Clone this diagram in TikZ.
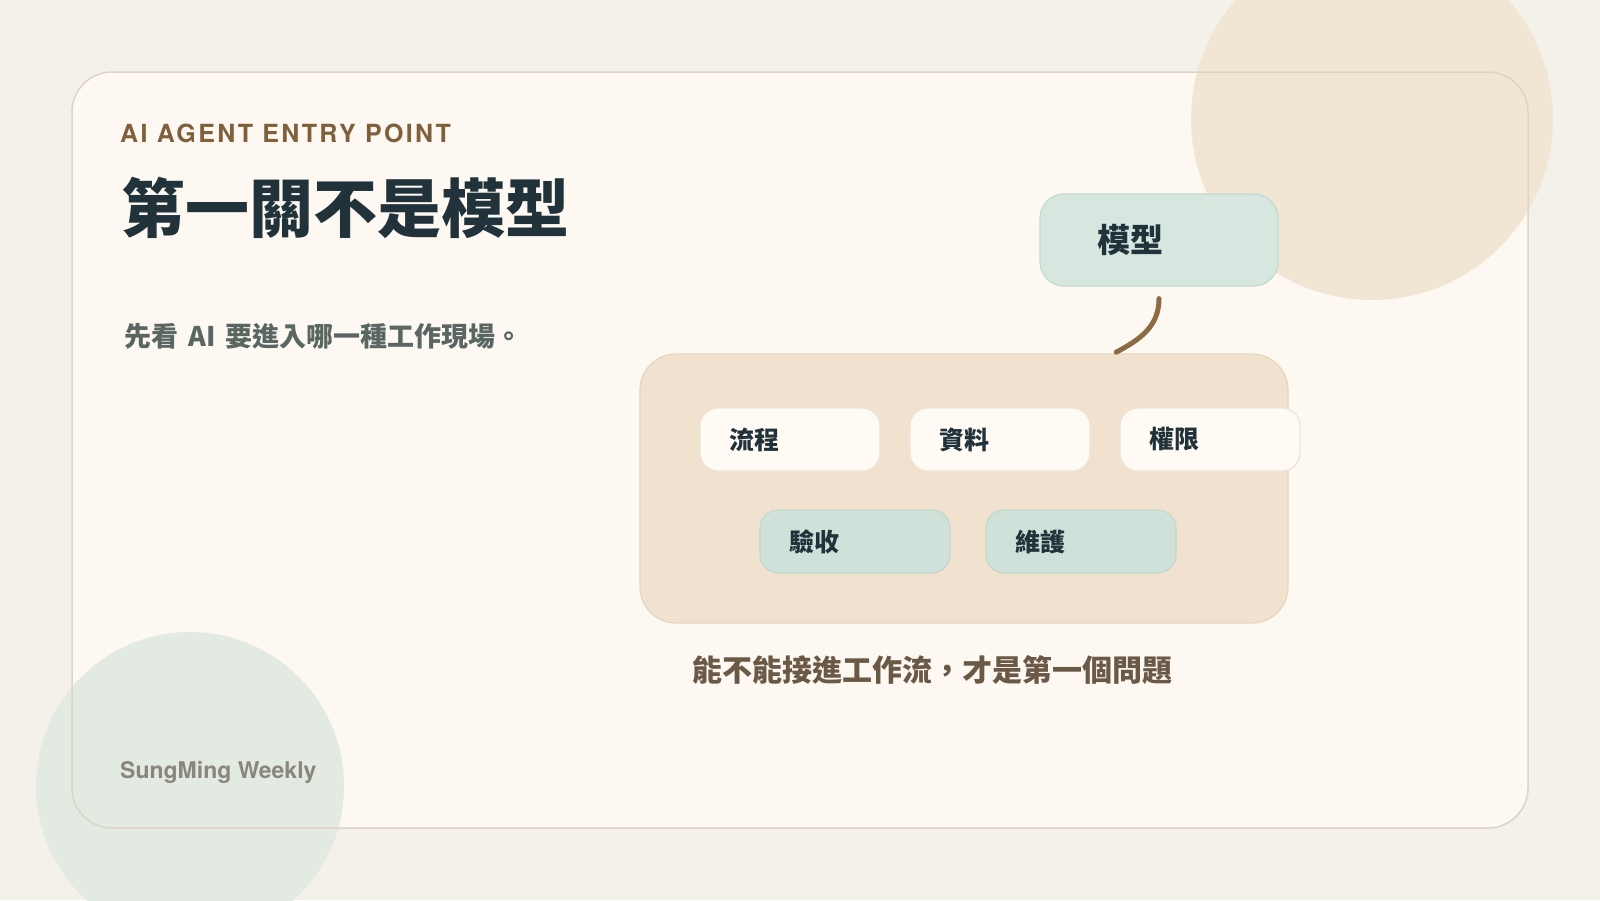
\documentclass[tikz,border=0pt]{standalone}
\usepackage{fontspec}
\setmainfont{TeX Gyre Heros}
\newfontfamily\cjk{Noto Sans CJK TC}
\newfontfamily\capsfont{TeX Gyre Heros}[LetterSpace=9.5]
\definecolor{paperbg}{HTML}{F4F1EA}
\definecolor{cardfill}{HTML}{FDF9F2}
\definecolor{cardline}{HTML}{DDD4C4}
\definecolor{sandcirc}{HTML}{F1E6D4}
\definecolor{sagecirc}{HTML}{E2EAE1}
\definecolor{ink}{HTML}{22323A}
\definecolor{slate}{HTML}{5A6662}
\definecolor{umber}{HTML}{80603B}
\definecolor{modelfill}{HTML}{D7E7E0}
\definecolor{modelline}{HTML}{C4D9D0}
\definecolor{hubfill}{HTML}{F1E2CF}
\definecolor{hubline}{HTML}{E5D5C0}
\definecolor{tilefill}{HTML}{FFFBF4}
\definecolor{tileline}{HTML}{EEE4D6}
\definecolor{sagefill}{HTML}{CFE1D8}
\definecolor{sageline}{HTML}{C3D7CE}
\definecolor{wire}{HTML}{8C6C43}
\definecolor{captcol}{HTML}{6B5947}
\definecolor{footcol}{HTML}{8A867C}
\tikzset{
  tile/.style={rounded corners=18pt, line width=1.2pt, minimum height=63pt, inner xsep=29pt,
    align=left, text=ink, font=\cjk\bfseries\fontsize{25}{30}\selectfont},
  uptile/.style={tile, draw=tileline, fill=tilefill, text width=122pt},
  lowtile/.style={tile, draw=sageline, fill=sagefill, text width=132pt},
}
\begin{document}
\begin{tikzpicture}[x=1pt, y=-1pt]
\useasboundingbox (0,0) rectangle (1600,900);
\clip (0,0) rectangle (1600,900);
\fill[paperbg] (0,0) rectangle (1600,900);
\fill[cardfill, rounded corners=40pt] (72,72) rectangle (1528,828);
\fill[sandcirc] (1372,119) circle (181);
\fill[sagecirc] (190,786) circle (154);
\draw[cardline, line width=1.5pt, rounded corners=40pt] (72,72) rectangle (1528,828);
% heading
\node[anchor=west, inner sep=0, text=umber, font=\capsfont\bfseries\fontsize{25}{30}\selectfont] (kicker) at (120,133.5) {AI AGENT ENTRY POINT};
\node[anchor=west, inner sep=0, text=ink, font=\cjk\bfseries\fontsize{64}{70}\selectfont] (title) at (121,207.5) {第一關不是模型};
\node[anchor=west, inner sep=0, text=slate, font=\cjk\bfseries\fontsize{27}{30}\selectfont] (lead) at (124,336) {先看\hspace{10pt}AI\hspace{10pt}要進入哪一種工作現場。};
% diagram
\node[rounded corners=24pt, draw=modelline, fill=modelfill, line width=1.2pt, minimum height=92pt,
  inner xsep=57pt, text width=124pt, align=left, text=ink, font=\cjk\bfseries\fontsize{33}{36}\selectfont] (model) at (1159,240) {模型};
\node[rounded corners=36pt, draw=hubline, fill=hubfill, line width=1.2pt, minimum width=648pt, minimum height=269pt] (hub) at (964,488.5) {};
\draw[wire, line width=5pt, line cap=round, shorten >=2.5pt] ([yshift=-12pt]model.south) .. controls +(0,28) and +(26,-14) .. ([xshift=150pt]hub.north);
\node[uptile] (flow) at (790,439.5) {流程};
\node[uptile] (data) at (1000,439.5) {資料};
\node[uptile] (perm) at (1210,439.5) {權限};
\node[lowtile] (check) at (855,541.5) {驗收};
\node[lowtile] (keep) at (1081,541.5) {維護};
\node[inner sep=0, text=captcol, font=\cjk\bfseries\fontsize{30}{34}\selectfont] (caption) at (932,670) {能不能接進工作流，才是第一個問題};
% footer
\node[anchor=west, inner sep=0, text=footcol, font=\bfseries\fontsize{23}{26}\selectfont] (brand) at (120,772) {SungMing Weekly};
\end{tikzpicture}
\end{document}
